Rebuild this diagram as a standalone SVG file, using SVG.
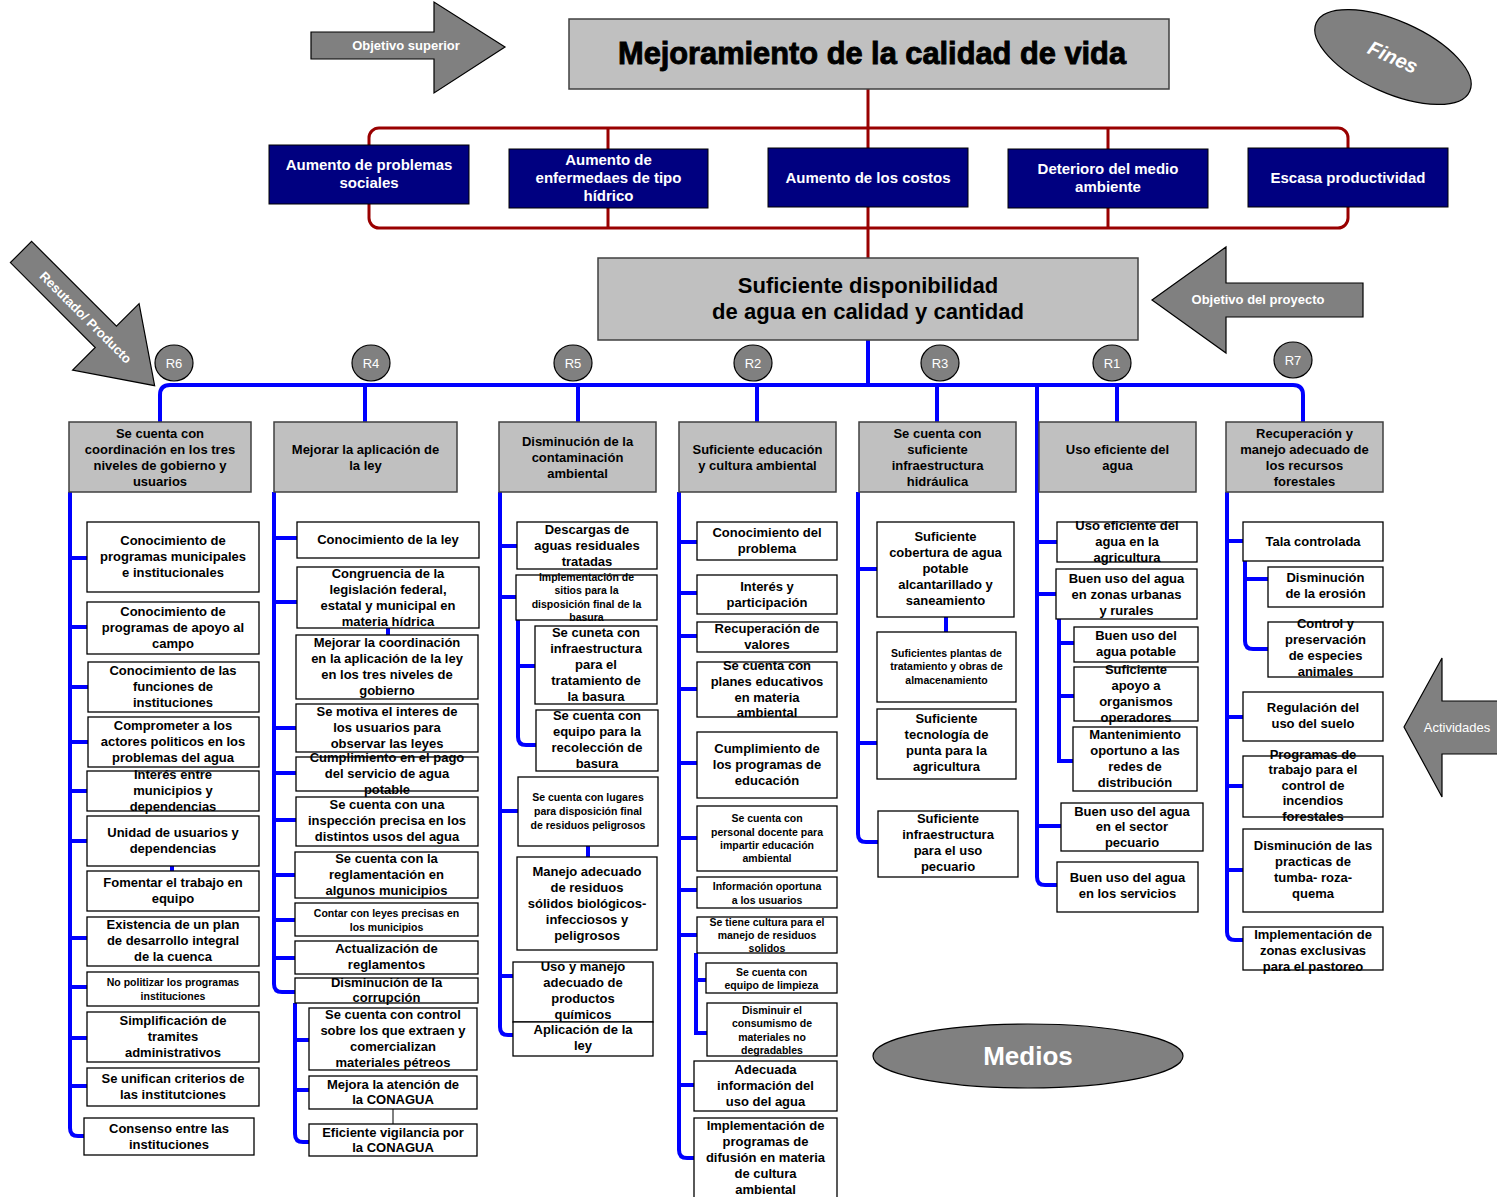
<svg xmlns="http://www.w3.org/2000/svg" width="1497" height="1197" viewBox="0 0 1497 1197">
<style>
  text { font-family: "Liberation Sans", Arial, sans-serif; }
  .t { font-size: 13px; font-weight: bold; text-anchor: middle; fill: #000; }
  .s { font-size: 10.5px; font-weight: bold; text-anchor: middle; fill: #000; }
  .w { font-size: 15px; font-weight: bold; text-anchor: middle; fill: #fff; }
  .lbl { font-size: 13px; font-weight: bold; text-anchor: middle; fill: #fff; }
  .r { font-size: 13px; text-anchor: middle; fill: #fff; }
  .box rect { fill: #fff; stroke: #000; stroke-width: 1.3; }
  .cat rect { fill: #c0c0c0; stroke: #404040; stroke-width: 1.5; }
  .eff rect { fill: #000080; stroke: #000; stroke-width: 1; }
  .shape { fill: #808080; stroke: #000; stroke-width: 1.2; }
  .blue { fill: none; stroke: #0000ff; stroke-width: 4; }
  .red { fill: none; stroke: #990000; stroke-width: 3; }
</style>

<!-- connectors -->
<g id="connectors">
  <g class="red">
    <path d="M868,88 V128 M868,228 V258"/>
    <rect x="369" y="128" width="979" height="100" rx="10"/>
    <path d="M608,128 V228 M868,128 V228 M1108,128 V228"/>
  </g>
  <g class="blue">
    <path d="M868,340 V385"/>
    <path d="M160,422 V395 Q160,385 170,385 H1293 Q1303,385 1303,395 V422"/>
    <path d="M365,385 V422 M578,385 V422 M757,385 V422 M937,385 V422 M1117,385 V422"/>
    <!-- column 1 -->
    <path d="M70,492 V1128 Q70,1136 78,1136 H85"/>
    <path d="M70,558 H87 M70,627 H87 M70,687 H88 M70,742 H88 M70,791 H87 M70,841 H87 M70,938 H87 M70,987 H87 M70,1038 H87 M70,1086 H87"/>
    <path d="M172,866 V871"/>
    <!-- column 2 -->
    <path d="M274,492 V984 Q274,992 282,992 H295"/>
    <path d="M274,538 H297 M274,602 H297 M274,728 H296 M274,773 H296 M274,820 H296 M274,875 H295 M274,920 H295 M274,958 H295"/>
    <path d="M295,1003 V1134 Q295,1142 303,1142 H309 M295,1040 H309 M295,1090 H309"/>
    <path d="M388,628 V635"/>
    <!-- column 3 -->
    <path d="M500,492 V1027 Q500,1035 508,1035 H513"/>
    <path d="M500,546 H517 M500,597 H516 M500,811 H518 M500,976 H513"/>
    <path d="M518,620 V737 Q518,745 526,745 H536 M518,666 H535"/>
    <path d="M588,846 V857"/>
    <!-- column 4 -->
    <path d="M679,492 V1150 Q679,1158 687,1158 H694"/>
    <path d="M679,542 H697 M679,593 H697 M679,636 H697 M679,689 H697 M679,763 H697 M679,838 H697 M679,890 H697 M679,935 H697 M679,1085 H694"/>
    <path d="M696,953 V1033 H707 M696,980 H706"/>
    <!-- column 5 -->
    <path d="M858,492 V834 Q858,842 866,842 H878"/>
    <path d="M858,569 H877 M858,743 H877"/>
    <path d="M946,617 V632"/>
    <!-- column 6 -->
    <path d="M1037,385 V877 Q1037,885 1045,885 H1057"/>
    <path d="M1037,542 H1057 M1037,594 H1056 M1037,826 H1061"/>
    <path d="M1059,619 V761 H1073 M1059,643 H1074 M1059,696 H1074"/>
    <!-- column 7 -->
    <path d="M1227,492 V932 Q1227,940 1235,940 H1243"/>
    <path d="M1227,541 H1243 M1227,717 H1243 M1227,786 H1243 M1227,870 H1243"/>
    <path d="M1245,561 V641 Q1245,649 1253,649 H1268 M1245,579 H1268"/>
  </g>
  <path d="M393,1109 V1124" stroke="#000" stroke-width="1"/>
</g>

<!-- level markers -->
<g id="arrow-objetivo-superior">
  <polygon class="shape" points="311,32 434,32 434,2 505,47 434,93 434,59 311,59"/>
  <text class="lbl" x="406" y="50">Objetivo superior</text>
</g>
<g id="arrow-objetivo-proyecto">
  <polygon class="shape" points="1152,300 1226,247 1226,283 1363,283 1363,317 1226,317 1226,353"/>
  <text class="lbl" x="1258" y="304">Objetivo del proyecto</text>
</g>
<g id="arrow-resultado" transform="translate(21,252) rotate(45)">
  <polygon class="shape" points="0,-15 120,-15 120,-47 189,0 120,47 120,15 0,15"/>
  <text class="lbl" x="92" y="5">Resutado/ Producto</text>
</g>
<g id="arrow-actividades">
  <polygon class="shape" points="1404,727 1442,658 1442,701 1500,701 1500,754 1442,754 1442,797"/>
  <text class="r" x="1457" y="732">Actividades</text>
</g>
<g id="fines" transform="translate(1393,57) rotate(24)">
  <ellipse class="shape" cx="0" cy="0" rx="84" ry="36"/>
  <text x="0" y="7" font-size="20" font-weight="bold" font-style="italic" text-anchor="middle" fill="#fff">Fines</text>
</g>
<g id="medios">
  <ellipse class="shape" cx="1028" cy="1056" rx="155" ry="32"/>
  <text x="1028" y="1065" font-size="26" font-weight="bold" text-anchor="middle" fill="#fff">Medios</text>
</g>

<!-- goal -->
<g id="fin" class="cat">
  <rect x="569" y="19" width="600" height="70"/>
  <text x="872" y="64" font-size="31" font-weight="bold" text-anchor="middle" fill="#000" stroke="#000" stroke-width="0.9" textLength="508" lengthAdjust="spacingAndGlyphs">Mejoramiento de la calidad de vida</text>
</g>

<!-- effects -->
<g id="efecto-1" class="eff"><rect x="269" y="145" width="200" height="59"/>
  <text class="w"><tspan x="369" y="170">Aumento de problemas</tspan><tspan x="369" y="188">sociales</tspan></text></g>
<g id="efecto-2" class="eff"><rect x="509" y="149" width="199" height="59"/>
  <text class="w"><tspan x="608.5" y="165">Aumento de</tspan><tspan x="608.5" y="183">enfermedaes de tipo</tspan><tspan x="608.5" y="201">hídrico</tspan></text></g>
<g id="efecto-3" class="eff"><rect x="768" y="148" width="200" height="59"/>
  <text class="w"><tspan x="868" y="183">Aumento de los costos</tspan></text></g>
<g id="efecto-4" class="eff"><rect x="1008" y="149" width="200" height="59"/>
  <text class="w"><tspan x="1108" y="174">Deterioro del medio</tspan><tspan x="1108" y="192">ambiente</tspan></text></g>
<g id="efecto-5" class="eff"><rect x="1248" y="148" width="200" height="59"/>
  <text class="w"><tspan x="1348" y="183">Escasa productividad</tspan></text></g>

<!-- project objective -->
<g id="proposito" class="cat">
  <rect x="598" y="258" width="540" height="82"/>
  <text x="868" y="293" font-size="22" font-weight="bold" text-anchor="middle" fill="#000">Suficiente disponibilidad</text>
  <text x="868" y="319" font-size="22" font-weight="bold" text-anchor="middle" fill="#000">de agua en calidad y cantidad</text>
</g>

<!-- result markers -->
<g id="markers">
  <g><ellipse class="shape" cx="174" cy="363" rx="19" ry="18"/><text class="r" x="174" y="368">R6</text></g>
  <g><ellipse class="shape" cx="371" cy="363" rx="19" ry="18"/><text class="r" x="371" y="368">R4</text></g>
  <g><ellipse class="shape" cx="573" cy="363" rx="19" ry="18"/><text class="r" x="573" y="368">R5</text></g>
  <g><ellipse class="shape" cx="753" cy="363" rx="19" ry="18"/><text class="r" x="753" y="368">R2</text></g>
  <g><ellipse class="shape" cx="940" cy="363" rx="19" ry="18"/><text class="r" x="940" y="368">R3</text></g>
  <g><ellipse class="shape" cx="1112" cy="363" rx="19" ry="18"/><text class="r" x="1112" y="368">R1</text></g>
  <g><ellipse class="shape" cx="1293" cy="360" rx="19" ry="18"/><text class="r" x="1293" y="365">R7</text></g>
</g>

<!-- results -->
<g id="r6" class="cat"><rect x="69" y="422" width="182" height="70"/>
  <text class="t"><tspan x="160" y="438">Se cuenta con</tspan><tspan x="160" y="454">coordinación en los tres</tspan><tspan x="160" y="470">niveles de gobierno y</tspan><tspan x="160" y="486">usuarios</tspan></text></g>
<g id="r4" class="cat"><rect x="274" y="422" width="183" height="70"/>
  <text class="t"><tspan x="365.5" y="454">Mejorar la aplicación de</tspan><tspan x="365.5" y="470">la ley</tspan></text></g>
<g id="r5" class="cat"><rect x="499" y="422" width="157" height="70"/>
  <text class="t"><tspan x="577.5" y="446">Disminución de la</tspan><tspan x="577.5" y="462">contaminación</tspan><tspan x="577.5" y="478">ambiental</tspan></text></g>
<g id="r2" class="cat"><rect x="679" y="422" width="157" height="70"/>
  <text class="t"><tspan x="757.5" y="454">Suficiente educación</tspan><tspan x="757.5" y="470">y cultura ambiental</tspan></text></g>
<g id="r3" class="cat"><rect x="859" y="422" width="157" height="70"/>
  <text class="t"><tspan x="937.5" y="438">Se cuenta con</tspan><tspan x="937.5" y="454">suficiente</tspan><tspan x="937.5" y="470">infraestructura</tspan><tspan x="937.5" y="486">hidráulica</tspan></text></g>
<g id="r1" class="cat"><rect x="1039" y="422" width="157" height="70"/>
  <text class="t"><tspan x="1117.5" y="454">Uso eficiente del</tspan><tspan x="1117.5" y="470">agua</tspan></text></g>
<g id="r7" class="cat"><rect x="1226" y="422" width="157" height="70"/>
  <text class="t"><tspan x="1304.5" y="438">Recuperación y</tspan><tspan x="1304.5" y="454">manejo adecuado de</tspan><tspan x="1304.5" y="470">los recursos</tspan><tspan x="1304.5" y="486">forestales</tspan></text></g>

<!-- means: column R6 -->
<g id="r6-1" class="box"><rect x="87" y="522" width="172" height="70"/>
  <text class="t"><tspan x="173" y="545">Conocimiento de</tspan><tspan x="173" y="561">programas municipales</tspan><tspan x="173" y="577">e institucionales</tspan></text></g>
<g id="r6-2" class="box"><rect x="87" y="602" width="172" height="52"/>
  <text class="t"><tspan x="173" y="616">Conocimiento de</tspan><tspan x="173" y="632">programas de apoyo al</tspan><tspan x="173" y="648">campo</tspan></text></g>
<g id="r6-3" class="box"><rect x="88" y="662" width="171" height="50"/>
  <text class="t"><tspan x="173" y="675">Conocimiento de las</tspan><tspan x="173" y="691">funciones de</tspan><tspan x="173" y="707">instituciones</tspan></text></g>
<g id="r6-4" class="box"><rect x="88" y="717" width="171" height="50"/>
  <text class="t"><tspan x="173" y="730">Comprometer a los</tspan><tspan x="173" y="746">actores politicos en los</tspan><tspan x="173" y="762">problemas del agua</tspan></text></g>
<g id="r6-5" class="box"><rect x="87" y="771" width="172" height="40"/>
  <text class="t"><tspan x="173" y="779">Interés entre</tspan><tspan x="173" y="795">municipios y</tspan><tspan x="173" y="811">dependencias</tspan></text></g>
<g id="r6-6" class="box"><rect x="87" y="816" width="172" height="50"/>
  <text class="t"><tspan x="173" y="837">Unidad de usuarios y</tspan><tspan x="173" y="853">dependencias</tspan></text></g>
<g id="r6-7" class="box"><rect x="87" y="871" width="172" height="40"/>
  <text class="t"><tspan x="173" y="887">Fomentar el trabajo en</tspan><tspan x="173" y="903">equipo</tspan></text></g>
<g id="r6-8" class="box"><rect x="87" y="917" width="172" height="49"/>
  <text class="t"><tspan x="173" y="929">Existencia de un plan</tspan><tspan x="173" y="945">de desarrollo integral</tspan><tspan x="173" y="961">de la cuenca</tspan></text></g>
<g id="r6-9" class="box"><rect x="87" y="972" width="172" height="34"/>
  <text class="s"><tspan x="173" y="986">No politizar los programas</tspan><tspan x="173" y="1000">instituciones</tspan></text></g>
<g id="r6-10" class="box"><rect x="87" y="1012" width="172" height="50"/>
  <text class="t"><tspan x="173" y="1025">Simplificación de</tspan><tspan x="173" y="1041">tramites</tspan><tspan x="173" y="1057">administrativos</tspan></text></g>
<g id="r6-11" class="box"><rect x="87" y="1068" width="172" height="38"/>
  <text class="t"><tspan x="173" y="1083">Se unifican criterios de</tspan><tspan x="173" y="1099">las institutciones</tspan></text></g>
<g id="r6-12" class="box"><rect x="84" y="1118" width="170" height="37"/>
  <text class="t"><tspan x="169" y="1133">Consenso entre las</tspan><tspan x="169" y="1149">instituciones</tspan></text></g>

<!-- means: column R4 -->
<g id="r4-1" class="box"><rect x="297" y="522" width="182" height="36"/>
  <text class="t"><tspan x="388" y="544">Conocimiento de la ley</tspan></text></g>
<g id="r4-2" class="box"><rect x="297" y="567" width="182" height="61"/>
  <text class="t"><tspan x="388" y="578">Congruencia de la</tspan><tspan x="388" y="594">legislación federal,</tspan><tspan x="388" y="610">estatal y municipal en</tspan><tspan x="388" y="626">materia hídrica</tspan></text></g>
<g id="r4-3" class="box"><rect x="296" y="635" width="182" height="64"/>
  <text class="t"><tspan x="387" y="647">Mejorar la coordinación</tspan><tspan x="387" y="663">en la aplicación de la ley</tspan><tspan x="387" y="679">en los tres niveles de</tspan><tspan x="387" y="695">gobierno</tspan></text></g>
<g id="r4-4" class="box"><rect x="296" y="704" width="182" height="48"/>
  <text class="t"><tspan x="387" y="716">Se motiva el interes de</tspan><tspan x="387" y="732">los usuarios para</tspan><tspan x="387" y="748">observar las leyes</tspan></text></g>
<g id="r4-5" class="box"><rect x="296" y="757" width="182" height="34"/>
  <text class="t"><tspan x="387" y="762">Cumplimiento en el pago</tspan><tspan x="387" y="778">del servicio de agua</tspan><tspan x="387" y="794">potable</tspan></text></g>
<g id="r4-6" class="box"><rect x="296" y="797" width="182" height="49"/>
  <text class="t"><tspan x="387" y="809">Se cuenta con una</tspan><tspan x="387" y="825">inspección precisa en los</tspan><tspan x="387" y="841">distintos usos del agua</tspan></text></g>
<g id="r4-7" class="box"><rect x="295" y="852" width="183" height="46"/>
  <text class="t"><tspan x="386.5" y="863">Se cuenta con la</tspan><tspan x="386.5" y="879">reglamentación en</tspan><tspan x="386.5" y="895">algunos municipios</tspan></text></g>
<g id="r4-8" class="box"><rect x="295" y="903" width="183" height="33"/>
  <text class="s"><tspan x="386.5" y="917">Contar con  leyes precisas en</tspan><tspan x="386.5" y="931">los municipios</tspan></text></g>
<g id="r4-9" class="box"><rect x="295" y="941" width="183" height="33"/>
  <text class="t"><tspan x="386.5" y="953">Actualización de</tspan><tspan x="386.5" y="969">reglamentos</tspan></text></g>
<g id="r4-10" class="box"><rect x="295" y="978" width="183" height="25"/>
  <text class="t"><tspan x="386.5" y="987">Disminución de la</tspan><tspan x="386.5" y="1002">corrupción</tspan></text></g>
<g id="r4-11" class="box"><rect x="309" y="1008" width="168" height="62"/>
  <text class="t"><tspan x="393" y="1019">Se cuenta con control</tspan><tspan x="393" y="1035">sobre los que extraen y</tspan><tspan x="393" y="1051">comercializan</tspan><tspan x="393" y="1067">materiales pétreos</tspan></text></g>
<g id="r4-12" class="box"><rect x="309" y="1076" width="168" height="33"/>
  <text class="t"><tspan x="393" y="1089">Mejora la  atención de</tspan><tspan x="393" y="1104">la CONAGUA</tspan></text></g>
<g id="r4-13" class="box"><rect x="309" y="1124" width="168" height="32"/>
  <text class="t"><tspan x="393" y="1137">Eficiente vigilancia por</tspan><tspan x="393" y="1152">la CONAGUA</tspan></text></g>

<!-- means: column R5 -->
<g id="r5-1" class="box"><rect x="517" y="522" width="140" height="47"/>
  <text class="t"><tspan x="587" y="534">Descargas de</tspan><tspan x="587" y="550">aguas residuales</tspan><tspan x="587" y="566">tratadas</tspan></text></g>
<g id="r5-2" class="box"><rect x="516" y="575" width="141" height="45"/>
  <text class="s"><tspan x="586.5" y="581">Implementación de</tspan><tspan x="586.5" y="594">sitios para la</tspan><tspan x="586.5" y="608">disposición final de la</tspan><tspan x="586.5" y="621">basura</tspan></text></g>
<g id="r5-3" class="box"><rect x="535" y="626" width="122" height="78"/>
  <text class="t"><tspan x="596" y="637">Se cuneta con</tspan><tspan x="596" y="653">infraestructura</tspan><tspan x="596" y="669">para el</tspan><tspan x="596" y="685">tratamiento de</tspan><tspan x="596" y="701">la basura</tspan></text></g>
<g id="r5-4" class="box"><rect x="536" y="710" width="122" height="61"/>
  <text class="t"><tspan x="597" y="720">Se cuenta con</tspan><tspan x="597" y="736">equipo para la</tspan><tspan x="597" y="752">recolección de</tspan><tspan x="597" y="768">basura</tspan></text></g>
<g id="r5-5" class="box"><rect x="518" y="777" width="140" height="69"/>
  <text class="s"><tspan x="588" y="801">Se cuenta con  lugares</tspan><tspan x="588" y="815">para  disposición final</tspan><tspan x="588" y="829">de residuos peligrosos</tspan></text></g>
<g id="r5-6" class="box"><rect x="517" y="857" width="140" height="93"/>
  <text class="t"><tspan x="587" y="876">Manejo adecuado</tspan><tspan x="587" y="892">de residuos</tspan><tspan x="587" y="908">sólidos biológicos-</tspan><tspan x="587" y="924">infecciosos y</tspan><tspan x="587" y="940">peligrosos</tspan></text></g>
<g id="r5-7" class="box"><rect x="513" y="962" width="140" height="60"/>
  <text class="t"><tspan x="583" y="971">Uso y manejo</tspan><tspan x="583" y="987">adecuado de</tspan><tspan x="583" y="1003">productos</tspan><tspan x="583" y="1019">químicos</tspan></text></g>
<g id="r5-8" class="box"><rect x="513" y="1022" width="140" height="34"/>
  <text class="t"><tspan x="583" y="1034">Aplicación de la</tspan><tspan x="583" y="1050">ley</tspan></text></g>

<!-- means: column R2 -->
<g id="r2-1" class="box"><rect x="697" y="522" width="140" height="38"/>
  <text class="t"><tspan x="767" y="537">Conocimiento del</tspan><tspan x="767" y="553">problema</tspan></text></g>
<g id="r2-2" class="box"><rect x="697" y="575" width="140" height="39"/>
  <text class="t"><tspan x="767" y="591">Interés y</tspan><tspan x="767" y="607">participación</tspan></text></g>
<g id="r2-3" class="box"><rect x="697" y="622" width="140" height="30"/>
  <text class="t"><tspan x="767" y="633">Recuperación de</tspan><tspan x="767" y="649">valores</tspan></text></g>
<g id="r2-4" class="box"><rect x="697" y="662" width="140" height="55"/>
  <text class="t"><tspan x="767" y="670">Se cuenta con</tspan><tspan x="767" y="686">planes educativos</tspan><tspan x="767" y="702">en materia</tspan><tspan x="767" y="717">ambiental</tspan></text></g>
<g id="r2-5" class="box"><rect x="697" y="732" width="140" height="66"/>
  <text class="t"><tspan x="767" y="753">Cumplimiento de</tspan><tspan x="767" y="769">los programas de</tspan><tspan x="767" y="785">educación</tspan></text></g>
<g id="r2-6" class="box"><rect x="697" y="806" width="140" height="65"/>
  <text class="s"><tspan x="767" y="822">Se cuenta con</tspan><tspan x="767" y="836">personal docente para</tspan><tspan x="767" y="849">impartir educación</tspan><tspan x="767" y="862">ambiental</tspan></text></g>
<g id="r2-7" class="box"><rect x="697" y="877" width="140" height="31"/>
  <text class="s"><tspan x="767" y="890">Información oportuna</tspan><tspan x="767" y="904">a los usuarios</tspan></text></g>
<g id="r2-8" class="box"><rect x="697" y="917" width="140" height="36"/>
  <text class="s"><tspan x="767" y="926">Se tiene cultura para el</tspan><tspan x="767" y="939">manejo de residuos</tspan><tspan x="767" y="952">solidos</tspan></text></g>
<g id="r2-9" class="box"><rect x="706" y="963" width="131" height="30"/>
  <text class="s"><tspan x="771.5" y="976">Se cuenta con</tspan><tspan x="771.5" y="989">equipo de limpieza</tspan></text></g>
<g id="r2-10" class="box"><rect x="707" y="1003" width="130" height="53"/>
  <text class="s"><tspan x="772" y="1014">Disminuir el</tspan><tspan x="772" y="1027">consumismo de</tspan><tspan x="772" y="1041">materiales no</tspan><tspan x="772" y="1054">degradables</tspan></text></g>
<g id="r2-11" class="box"><rect x="694" y="1061" width="143" height="50"/>
  <text class="t"><tspan x="765.5" y="1074">Adecuada</tspan><tspan x="765.5" y="1090">información del</tspan><tspan x="765.5" y="1106">uso del agua</tspan></text></g>
<g id="r2-12" class="box"><rect x="694" y="1118" width="143" height="84"/>
  <text class="t"><tspan x="765.5" y="1130">Implementación de</tspan><tspan x="765.5" y="1146">programas de</tspan><tspan x="765.5" y="1162">difusión en materia</tspan><tspan x="765.5" y="1178">de cultura</tspan><tspan x="765.5" y="1194">ambiental</tspan></text></g>

<!-- means: column R3 -->
<g id="r3-1" class="box"><rect x="877" y="522" width="137" height="95"/>
  <text class="t"><tspan x="945.5" y="541">Suficiente</tspan><tspan x="945.5" y="557">cobertura de agua</tspan><tspan x="945.5" y="573">potable</tspan><tspan x="945.5" y="589">alcantarillado y</tspan><tspan x="945.5" y="605">saneamiento</tspan></text></g>
<g id="r3-2" class="box"><rect x="877" y="632" width="139" height="70"/>
  <text class="s"><tspan x="946.5" y="657">Suficientes plantas de</tspan><tspan x="946.5" y="670">tratamiento y obras de</tspan><tspan x="946.5" y="684">almacenamiento</tspan></text></g>
<g id="r3-3" class="box"><rect x="877" y="709" width="139" height="70"/>
  <text class="t"><tspan x="946.5" y="723">Suficiente</tspan><tspan x="946.5" y="739">tecnología de</tspan><tspan x="946.5" y="755">punta para  la</tspan><tspan x="946.5" y="771">agricultura</tspan></text></g>
<g id="r3-4" class="box"><rect x="878" y="811" width="140" height="66"/>
  <text class="t"><tspan x="948" y="823">Suficiente</tspan><tspan x="948" y="839">infraestructura</tspan><tspan x="948" y="855">para el uso</tspan><tspan x="948" y="871">pecuario</tspan></text></g>

<!-- means: column R1 -->
<g id="r1-1" class="box"><rect x="1057" y="522" width="140" height="40"/>
  <text class="t"><tspan x="1127" y="530">Uso eficiente del</tspan><tspan x="1127" y="546">agua en la</tspan><tspan x="1127" y="562">agricultura</tspan></text></g>
<g id="r1-2" class="box"><rect x="1056" y="569" width="141" height="50"/>
  <text class="t"><tspan x="1126.5" y="583">Buen uso del agua</tspan><tspan x="1126.5" y="599">en zonas urbanas</tspan><tspan x="1126.5" y="615">y rurales</tspan></text></g>
<g id="r1-3" class="box"><rect x="1074" y="627" width="124" height="35"/>
  <text class="t"><tspan x="1136" y="640">Buen uso  del</tspan><tspan x="1136" y="656">agua potable</tspan></text></g>
<g id="r1-4" class="box"><rect x="1074" y="667" width="124" height="54"/>
  <text class="t"><tspan x="1136" y="674">Suficiente</tspan><tspan x="1136" y="690">apoyo a</tspan><tspan x="1136" y="706">organismos</tspan><tspan x="1136" y="722">operadores</tspan></text></g>
<g id="r1-5" class="box"><rect x="1073" y="727" width="124" height="64"/>
  <text class="t"><tspan x="1135" y="739">Mantenimiento</tspan><tspan x="1135" y="755">oportuno a las</tspan><tspan x="1135" y="771">redes de</tspan><tspan x="1135" y="787">distribución</tspan></text></g>
<g id="r1-6" class="box"><rect x="1061" y="803" width="142" height="48"/>
  <text class="t"><tspan x="1132" y="816">Buen uso del agua</tspan><tspan x="1132" y="831">en el sector</tspan><tspan x="1132" y="847">pecuario</tspan></text></g>
<g id="r1-7" class="box"><rect x="1057" y="862" width="141" height="50"/>
  <text class="t"><tspan x="1127.5" y="882">Buen uso del agua</tspan><tspan x="1127.5" y="898">en los servicios</tspan></text></g>

<!-- means: column R7 -->
<g id="r7-1" class="box"><rect x="1243" y="522" width="140" height="39"/>
  <text class="t"><tspan x="1313" y="546">Tala controlada</tspan></text></g>
<g id="r7-2" class="box"><rect x="1268" y="567" width="115" height="40"/>
  <text class="t"><tspan x="1325.5" y="582">Disminución</tspan><tspan x="1325.5" y="598">de la erosión</tspan></text></g>
<g id="r7-3" class="box"><rect x="1268" y="622" width="115" height="55"/>
  <text class="t"><tspan x="1325.5" y="628">Control y</tspan><tspan x="1325.5" y="644">preservación</tspan><tspan x="1325.5" y="660">de especies</tspan><tspan x="1325.5" y="676">animales</tspan></text></g>
<g id="r7-4" class="box"><rect x="1243" y="692" width="140" height="49"/>
  <text class="t"><tspan x="1313" y="712">Regulación del</tspan><tspan x="1313" y="728">uso del suelo</tspan></text></g>
<g id="r7-5" class="box"><rect x="1243" y="756" width="140" height="61"/>
  <text class="t"><tspan x="1313" y="759">Programas de</tspan><tspan x="1313" y="774">trabajo para el</tspan><tspan x="1313" y="790">control de</tspan><tspan x="1313" y="805">incendios</tspan><tspan x="1313" y="821">forestales</tspan></text></g>
<g id="r7-6" class="box"><rect x="1243" y="829" width="140" height="83"/>
  <text class="t"><tspan x="1313" y="850">Disminución de las</tspan><tspan x="1313" y="866">practicas de</tspan><tspan x="1313" y="882">tumba- roza-</tspan><tspan x="1313" y="898">quema</tspan></text></g>
<g id="r7-7" class="box"><rect x="1243" y="927" width="140" height="43"/>
  <text class="t"><tspan x="1313" y="939">Implementación de</tspan><tspan x="1313" y="955">zonas exclusivas</tspan><tspan x="1313" y="971">para el pastoreo</tspan></text></g>
</svg>
